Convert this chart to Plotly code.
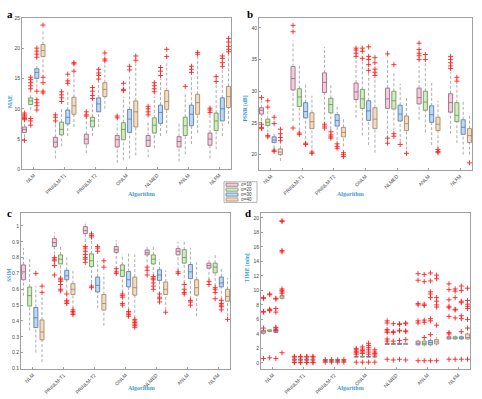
import plotly.graph_objects as go

ALGOS = ["NLM", "PRINLM-T1", "PRINLM-T2", "ONLM", "NLMED", "ANLM", "NLFM"]
SIGMAS = ["σ=10", "σ=20", "σ=30", "σ=40"]

# ---------- MAE ----------
MAE_LO = [[5.3, 9.8, 13.5, 16.0], [1.8, 3.8, 5.5, 7.0], [2.7, 5.5, 7.0, 10.0], [1.1, 1.5, 1.8, 2.3],
          [2.0, 3.5, 5.5, 6.0], [1.3, 2.5, 4.2, 6.0], [1.8, 3.3, 5.5, 7.5]]
MAE_Q1 = [[6.1, 10.7, 15.0, 18.6], [3.7, 5.7, 7.5, 9.1], [4.2, 7.0, 9.5, 12.0], [3.7, 4.9, 6.1, 7.0],
          [3.8, 6.0, 7.6, 9.9], [3.7, 5.6, 7.2, 9.1], [4.0, 6.4, 8.0, 10.2]]
MAE_MED = [[6.6, 11.3, 16.0, 19.6], [4.5, 6.6, 8.6, 10.5], [5.0, 8.0, 10.8, 13.2], [4.9, 6.6, 8.3, 9.5],
           [4.8, 7.3, 9.4, 11.2], [4.6, 7.2, 9.1, 11.0], [5.0, 8.0, 10.0, 12.0]]
MAE_Q3 = [[7.0, 11.8, 16.6, 20.6], [5.3, 7.8, 9.8, 11.9], [5.8, 8.6, 11.8, 14.3], [5.6, 7.7, 9.9, 11.3],
          [5.6, 8.5, 10.6, 13.0], [5.4, 8.6, 10.6, 12.4], [6.0, 9.3, 11.8, 13.7]]
MAE_HI = [[7.8, 12.9, 17.5, 23.0], [7.5, 10.0, 13.0, 16.0], [8.5, 11.0, 14.5, 17.5], [7.5, 12.0, 15.5, 17.5],
          [8.0, 12.0, 15.0, 17.5], [7.8, 12.5, 15.5, 18.5], [9.0, 14.0, 16.5, 19.0]]
MAE_OUT = [
    [[8.2, 8.4, 8.6, 8.8, 9.0, 9.3, 4.8], [13.3, 13.8, 14.3, 14.8, 15.2, 8.0, 8.4, 7.3],
     [18.5, 19.0, 19.5, 20.0, 12.9, 11.5, 11.0, 10.5, 9.8], [23.8, 15.2, 14.3, 12.9, 12.6]],
    [[8.0, 8.6, 9.0], [11.2, 11.8, 12.3, 12.8], [14.2, 14.6, 15.7], [16.2, 17.4, 17.6]],
    [[8.8, 9.0, 9.5], [11.7, 12.2, 12.9, 13.5], [14.9, 15.5, 15.9, 16.5], [17.9, 18.2, 19.2]],
    [[8.5, 8.8], [13.0, 13.2, 14.2], [16.4, 17.0], [18.0, 18.7]],
    [[9.0, 9.5, 10.0, 10.4], [12.8, 13.3, 13.8, 14.3], [15.5, 16.2, 16.8], [18.6, 19.8]],
    [[], [13.7], [16.0, 16.5, 17.0], [19.0, 19.3]],
    [[9.4, 9.8, 10.1], [14.5, 15.3], [17.0, 17.6, 18.3, 18.7], [19.4, 19.8, 20.3, 21.0, 21.6]],
]

# ---------- PSNR ----------
PSNR_LO = [[25.3, 23.5, 21.0, 19.0], [25.3, 23.8, 22.5, 21.0], [25.5, 24.0, 22.3, 21.3], [25.8, 23.0, 21.5, 20.3],
           [23.3, 23.8, 22.0, 20.8], [25.5, 23.5, 21.5, 21.0], [23.3, 21.8, 20.0, 20.0]]
PSNR_Q1 = [[26.4, 24.6, 21.9, 20.0], [30.2, 27.6, 25.8, 24.1], [29.8, 26.6, 24.5, 22.8], [28.7, 27.3, 25.4, 24.1],
           [27.3, 27.2, 25.3, 23.8], [28.0, 27.0, 25.1, 23.8], [26.7, 25.2, 23.2, 21.9]]
PSNR_MED = [[27.0, 25.1, 22.3, 20.4], [32.0, 29.1, 26.8, 25.2], [31.4, 27.9, 25.4, 23.5], [29.9, 28.8, 26.9, 25.6],
            [28.8, 28.5, 26.4, 24.9], [29.0, 28.3, 26.3, 24.8], [28.2, 26.2, 24.3, 23.0]]
PSNR_Q3 = [[27.4, 25.6, 22.8, 20.9], [33.9, 30.4, 28.2, 26.6], [32.9, 28.9, 26.3, 24.3], [31.3, 30.3, 28.5, 27.4],
           [30.5, 30.0, 27.8, 26.1], [30.5, 30.0, 27.7, 25.9], [29.6, 28.2, 25.5, 24.1]]
PSNR_HI = [[28.5, 27.0, 23.5, 21.8], [38.0, 34.3, 31.3, 29.3], [37.0, 31.0, 27.9, 25.8], [35.2, 35.0, 33.0, 32.0],
           [35.0, 33.0, 31.2, 29.2], [34.0, 34.5, 31.3, 28.5], [33.0, 31.0, 28.6, 26.1]]
PSNR_OUT = [
    [[29.0, 24.8, 24.3, 24.1], [27.5, 28.5, 23.0, 22.8], [24.9, 25.9, 20.7, 20.5], [22.2, 22.7, 23.3, 24.0]],
    [[40.4, 39.4, 24.2], [23.2, 23.4], [21.8, 21.6], [20.4, 20.2]],
    [[24.8, 24.5, 24.2], [23.6, 23.1, 22.8, 22.6], [21.7, 21.3, 21.0], [20.3, 20.0, 19.7]],
    [[35.5, 36.0, 36.5, 36.8], [35.2, 36.3, 36.8], [33.3, 34.2, 35.0, 35.5, 37.0], [32.5, 33.0, 33.5, 34.5, 35.3]],
    [[35.9, 22.6, 21.8], [34.2, 23.3, 22.9], [21.6], [20.2]],
    [[35.0, 35.6, 36.0, 36.6, 37.6], [35.0, 35.8], [], [20.8, 20.5, 20.3]],
    [[33.6, 34.0, 34.5, 35.0, 35.5], [31.6, 32.2], [], [18.7]],
]

# ---------- SSIM ----------
SSIM_LO = [[0.56, 0.34, 0.20, 0.14], [0.82, 0.70, 0.58, 0.48], [0.90, 0.64, 0.48, 0.37], [0.76, 0.58, 0.47, 0.42],
           [0.77, 0.69, 0.60, 0.47], [0.72, 0.64, 0.54, 0.43], [0.66, 0.62, 0.54, 0.43]]
SSIM_Q1 = [[0.66, 0.494, 0.358, 0.281], [0.87, 0.76, 0.66, 0.567], [0.952, 0.744, 0.583, 0.469],
           [0.833, 0.681, 0.615, 0.563], [0.817, 0.76, 0.656, 0.567], [0.817, 0.765, 0.667, 0.563],
           [0.733, 0.704, 0.615, 0.525]]
SSIM_MED = [[0.71, 0.56, 0.42, 0.33], [0.895, 0.79, 0.685, 0.60], [0.97, 0.78, 0.625, 0.51],
            [0.85, 0.72, 0.66, 0.61], [0.83, 0.79, 0.69, 0.60], [0.84, 0.80, 0.71, 0.61],
            [0.75, 0.74, 0.64, 0.555]]
SSIM_Q3 = [[0.754, 0.614, 0.485, 0.406], [0.92, 0.817, 0.72, 0.635], [0.996, 0.823, 0.677, 0.567],
           [0.87, 0.754, 0.712, 0.677], [0.848, 0.817, 0.723, 0.646], [0.858, 0.85, 0.756, 0.66],
           [0.765, 0.765, 0.677, 0.60]]
SSIM_HI = [[0.86, 0.80, 0.62, 0.55], [0.96, 0.87, 0.80, 0.72], [1.03, 0.92, 0.78, 0.70], [0.91, 0.82, 0.83, 0.82],
           [0.87, 0.87, 0.79, 0.72], [0.90, 0.91, 0.86, 0.77], [0.80, 0.82, 0.74, 0.67]]
SSIM_OUT = [
    [[], [], [0.70], [0.58, 0.62]],
    [[0.80, 0.79, 0.78, 0.75, 0.69], [0.67, 0.66, 0.65, 0.63, 0.60, 0.59], [0.57, 0.53, 0.52, 0.51],
     [0.47, 0.46, 0.45, 0.44]],
    [[0.87, 0.86, 0.84, 0.82, 0.80, 0.79, 0.77], [0.95, 0.94, 0.93, 0.62, 0.61], [0.87, 0.86, 0.84],
     [0.78, 0.74]],
    [[0.73, 0.71, 0.70], [0.57, 0.56, 0.55, 0.51, 0.50], [0.46, 0.45, 0.44, 0.43],
     [0.41, 0.40, 0.39, 0.38, 0.37, 0.36]],
    [[0.74, 0.72, 0.69], [0.68, 0.67, 0.66, 0.64, 0.62, 0.60], [0.57, 0.55, 0.54, 0.52], [0.455]],
    [[0.71, 0.70], [0.63, 0.60, 0.58, 0.57], [0.53, 0.52, 0.50], []],
    [[0.65, 0.63], [0.61, 0.60, 0.58, 0.54], [0.53, 0.51, 0.50, 0.49, 0.47], [0.41]],
]

# ---------- TIME ----------
TIME_LO = [[3.9, 4.2, 4.1, 8.7], [0.2, 0.2, 0.2, 0.2], [0.15, 0.15, 0.15, 0.15], [0.7, 0.7, 0.7, 0.7],
           [2.5, 2.5, 2.5, 2.5], [2.3, 2.3, 2.3, 2.4], [3.2, 3.2, 3.2, 3.2]]
TIME_Q1 = [[4.1, 4.35, 4.2, 8.9], [0.35, 0.35, 0.35, 0.35], [0.22, 0.22, 0.22, 0.22], [0.8, 0.8, 0.8, 0.8],
           [2.55, 2.55, 2.55, 2.55], [2.5, 2.5, 2.5, 2.6], [3.3, 3.3, 3.3, 3.3]]
TIME_MED = [[4.3, 4.4, 4.4, 9.1], [0.45, 0.45, 0.45, 0.45], [0.27, 0.27, 0.27, 0.27], [0.85, 0.85, 0.85, 0.85],
            [2.6, 2.6, 2.6, 2.6], [2.7, 2.7, 2.8, 2.9], [3.4, 3.4, 3.4, 3.5]]
TIME_Q3 = [[4.5, 4.55, 4.6, 9.3], [0.55, 0.55, 0.55, 0.55], [0.32, 0.32, 0.32, 0.32], [0.9, 0.9, 0.9, 0.9],
           [2.7, 2.7, 2.7, 2.7], [3.0, 3.0, 3.1, 3.2], [3.6, 3.6, 3.6, 4.0]]
TIME_HI = [[4.7, 4.6, 4.7, 9.5], [0.7, 0.7, 0.7, 0.7], [0.38, 0.38, 0.38, 0.38], [1.0, 1.0, 1.0, 1.0],
           [2.8, 2.8, 2.8, 2.8], [3.2, 3.2, 3.4, 4.0], [3.8, 3.8, 3.8, 4.2]]
TIME_OUT = [
    [[9.0, 8.9, 7.1, 7.0, 4.8, 0.6], [9.5, 9.4, 7.4, 7.3, 7.2, 0.7], [8.9, 8.8, 7.5, 7.0, 4.9, 4.8, 4.5, 0.6],
     [19.6, 19.5, 15.5, 15.3, 10.2, 10.0, 9.8, 9.6, 1.4]],
    [[0.9, 0.8, 0.1, 0.05], [0.9, 0.8, 0.1, 0.05], [0.9, 0.8, 0.1, 0.05], [0.9, 0.8, 0.1, 0.05]],
    [[0.45, 0.1], [0.45, 0.1], [0.45, 0.1], [0.45, 0.1]],
    [[1.2, 1.4, 1.6, 1.8, 2.0, 0.1], [1.3, 1.5, 1.7, 1.9, 2.2, 0.1], [1.2, 1.5, 1.8, 2.1, 2.4, 2.7, 0.1],
     [1.1, 1.3, 1.5, 1.8, 0.1]],
    [[5.8, 5.5, 4.6, 4.4, 4.2, 3.3, 3.0, 0.5], [5.4, 4.3, 4.2, 3.0, 0.4], [5.4, 5.3, 4.5, 4.4, 3.1, 0.5],
     [5.5, 5.4, 4.4, 4.3, 3.2, 0.4]],
    [[12.3, 11.4, 8.2, 8.0, 5.8, 5.5, 0.3], [12.2, 11.2, 8.1, 7.9, 5.9, 5.6, 3.5, 0.3],
     [12.4, 11.3, 9.8, 9.5, 9.0, 6.1, 5.8, 3.9, 0.3], [12.1, 11.6, 9.0, 8.5, 8.0, 7.7, 5.2, 0.3]],
    [[10.9, 10.1, 8.7, 7.8, 7.6, 6.4, 4.2, 4.0, 0.5], [10.2, 9.9, 9.0, 7.4, 7.3, 6.2, 0.5],
     [10.6, 10.0, 8.5, 8.3, 6.5, 6.1, 4.3, 0.5], [10.3, 8.6, 8.1, 7.8, 7.5, 6.0, 4.8, 0.5]],
]

FILLS = ["#f6cbdb", "#d2ebc2", "#bfd8f1", "#f4dbbf"]
EDGES = ["#9a6f86", "#6f9a5e", "#5b80b0", "#a28c72"]
BLUE = "#3d9ad6"
W, H = 482, 399


def px(x):
    return x / W


def py(y):
    return 1 - y / H


PANELS = [
    dict(lo=MAE_LO, q1=MAE_Q1, med=MAE_MED, q3=MAE_Q3, hi=MAE_HI, out=MAE_OUT,
         xd=[px(22), px(231)], yd=[py(169), py(15)], yr=[0, 25], yt=list(range(0, 26, 5)),
         title="MAE", letter="a", lpos=(5, 3), ytpos=(5, 92), xtpos=(126, 194)),
    dict(lo=PSNR_LO, q1=PSNR_Q1, med=PSNR_MED, q3=PSNR_Q3, hi=PSNR_HI, out=PSNR_OUT,
         xd=[px(259), px(472)], yd=[py(170), py(15)], yr=[17.5, 41.6], yt=list(range(20, 41, 5)),
         title="PSNR [dB]", letter="b", lpos=(245, 3), ytpos=(245, 92), xtpos=(366, 194)),
    dict(lo=SSIM_LO, q1=SSIM_Q1, med=SSIM_MED, q3=SSIM_Q3, hi=SSIM_HI, out=SSIM_OUT,
         xd=[px(21), px(230)], yd=[py(372), py(213)], yr=[0.094, 1.083],
         yt=[round(0.1 * i, 1) for i in range(1, 11)],
         title="SSIM", letter="c", lpos=(5, 205), ytpos=(4, 285), xtpos=(126, 396)),
    dict(lo=TIME_LO, q1=TIME_Q1, med=TIME_MED, q3=TIME_Q3, hi=TIME_HI, out=TIME_OUT,
         xd=[px(261), px(470)], yd=[py(372), py(213)], yr=[-0.9, 20.7], yt=list(range(0, 21, 2)),
         title="TIME [min]", letter="d", lpos=(243, 205), ytpos=(247, 285), xtpos=(366, 396)),
]

OFFS = [-0.3, -0.1, 0.1, 0.3]
fig = go.Figure()
annotations = []
layout = dict(width=W, height=H, margin=dict(l=0, r=0, t=0, b=0), plot_bgcolor="white",
              paper_bgcolor="white", showlegend=False, hovermode=False)

for p_i, P in enumerate(PANELS):
    sfx = "" if p_i == 0 else str(p_i + 1)
    xa, ya = "x" + sfx, "y" + sfx
    for k in range(4):
        xs = [a + OFFS[k] for a in range(len(ALGOS))]
        q1 = [P["q1"][a][k] for a in range(len(ALGOS))]
        q3 = [P["q3"][a][k] for a in range(len(ALGOS))]
        med = [P["med"][a][k] for a in range(len(ALGOS))]
        lo = [P["lo"][a][k] for a in range(len(ALGOS))]
        hi = [P["hi"][a][k] for a in range(len(ALGOS))]
        # whiskers (dashed)
        wx, wy = [], []
        for x, l, a1, a3, h in zip(xs, lo, q1, q3, hi):
            wx += [x, x, None, x, x, None]
            wy += [l, a1, None, a3, h, None]
        fig.add_trace(go.Scatter(x=wx, y=wy, mode="lines", xaxis=xa, yaxis=ya,
                                 line=dict(color="#8a8a8a", width=0.7, dash="3px,2px"),
                                 hoverinfo="skip"))
        fig.add_trace(go.Box(x=xs, q1=q1, median=med, q3=q3, lowerfence=q1, upperfence=q3,
                             width=0.13, whiskerwidth=0, fillcolor=FILLS[k],
                             line=dict(color=EDGES[k], width=0.9), boxpoints=False,
                             xaxis=xa, yaxis=ya, name=SIGMAS[k], hoverinfo="skip"))
        ox, oy = [], []
        for a in range(len(ALGOS)):
            for v in P["out"][a][k]:
                ox.append(xs[a])
                oy.append(v)
        fig.add_trace(go.Scatter(x=ox, y=oy, mode="markers", xaxis=xa, yaxis=ya,
                                 marker=dict(symbol="cross-thin", size=3.6, color="#ff2020",
                                             line=dict(width=0.9, color="#ff2020")),
                                 hoverinfo="skip"))
    axis_common = dict(showline=True, mirror=True, linecolor="#a0a0a0", linewidth=1,
                       showgrid=False, zeroline=False, ticks="inside", ticklen=2,
                       tickcolor="#a0a0a0", tickfont=dict(family="Liberation Sans", size=5, color="#444"))
    layout["xaxis" + sfx] = dict(axis_common, domain=P["xd"], anchor=ya, range=[-0.38, 6.38],
                                 tickvals=list(range(len(ALGOS))), ticktext=ALGOS, tickangle=-45)
    layout["yaxis" + sfx] = dict(axis_common, domain=P["yd"], anchor=xa, range=P["yr"],
                                 tickvals=P["yt"])
    annotations.append(dict(text="<b>" + P["letter"] + "</b>", x=px(P["lpos"][0]), y=py(P["lpos"][1]),
                            xref="paper", yref="paper", showarrow=False, xanchor="left", yanchor="top",
                            font=dict(family="Liberation Serif", size=11, color="black")))
    annotations.append(dict(text="<b>" + P["title"] + "</b>", x=px(P["ytpos"][0]), y=py(P["ytpos"][1]),
                            xref="paper", yref="paper", showarrow=False, textangle=-90,
                            font=dict(family="Liberation Serif", size=5.5, color=BLUE)))
    annotations.append(dict(text="<b>Algorithm</b>", x=px(P["xtpos"][0]), y=py(P["xtpos"][1]),
                            xref="paper", yref="paper", showarrow=False,
                            font=dict(family="Liberation Serif", size=6, color=BLUE)))

# legend (drawn manually)
shapes = [dict(type="rect", xref="paper", yref="paper", x0=px(224), x1=px(257), y0=py(202.5), y1=py(181.5),
               line=dict(color="#a0a0a0", width=0.8), fillcolor="white")]
for k in range(4):
    yc = 184.5 + 5 * k
    shapes.append(dict(type="rect", xref="paper", yref="paper", x0=px(226), x1=px(238),
                       y0=py(yc + 1.6), y1=py(yc - 1.6), fillcolor=FILLS[k],
                       line=dict(color=EDGES[k], width=0.8)))
    annotations.append(dict(text=SIGMAS[k], x=px(239), y=py(yc), xref="paper", yref="paper",
                            showarrow=False, xanchor="left", yanchor="middle",
                            font=dict(family="Liberation Sans", size=4.5, color="#333")))

layout["annotations"] = annotations
layout["shapes"] = shapes
fig.update_layout(**layout)
fig.write_html("out.html")
